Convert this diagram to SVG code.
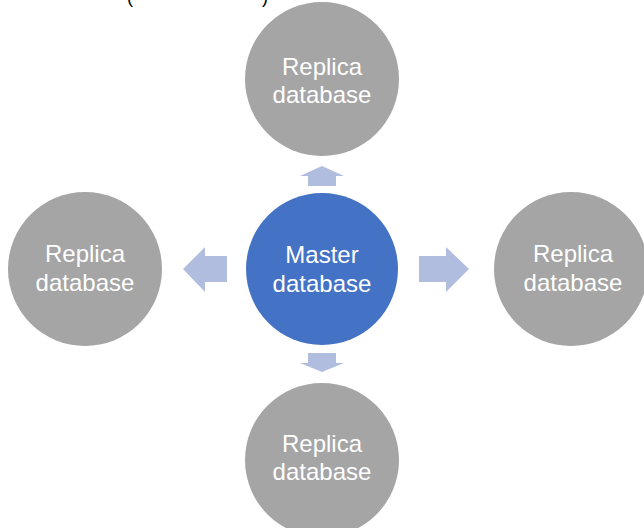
<svg xmlns="http://www.w3.org/2000/svg" width="644" height="528" viewBox="0 0 644 528">
<style>
.replica{fill:#A5A5A5}
.master{fill:#4472C4}
.lbl{font-family:"Liberation Sans",Arial,sans-serif;font-size:24px;fill:#FFFFFF;text-anchor:middle}
.arr{fill:#B0BDDF}
.par{font-family:"Liberation Sans",Arial,sans-serif;font-size:18px;fill:#000000}
</style>
<rect width="644" height="528" fill="#FFFFFF"/>
<text class="par" y="3"><tspan x="127">(</tspan><tspan x="262">)</tspan></text>
<g id="connectors">
<polygon class="arr" points="322,166 344,176 336,176 336,186 308,186 308,176 300,176"/>
<polygon class="arr" points="322,372 344,363 336,363 336,353 308,353 308,363 300,363"/>
<polygon class="arr" points="183,269 205,247 205,256 227,256 227,282 205,282 205,292"/>
<polygon class="arr" points="469,269 446,247 446,256 419,256 419,282 446,282 446,292"/>
</g>
<g id="master">
<circle class="master" cx="322" cy="269" r="76"/>
<text class="lbl" x="322" y="263">Master</text>
<text class="lbl" x="322" y="292">database</text>
</g>
<g id="replica-top">
<circle class="replica" cx="322" cy="79" r="77"/>
<text class="lbl" x="322" y="75">Replica</text>
<text class="lbl" x="322" y="103">database</text>
</g>
<g id="replica-left">
<circle class="replica" cx="85" cy="269" r="77"/>
<text class="lbl" x="85" y="262">Replica</text>
<text class="lbl" x="85" y="291">database</text>
</g>
<g id="replica-right">
<circle class="replica" cx="571" cy="269" r="77"/>
<text class="lbl" x="573" y="262">Replica</text>
<text class="lbl" x="573" y="291">database</text>
</g>
<g id="replica-bottom">
<circle class="replica" cx="322" cy="460" r="77"/>
<text class="lbl" x="322" y="452">Replica</text>
<text class="lbl" x="322" y="480">database</text>
</g>
</svg>
